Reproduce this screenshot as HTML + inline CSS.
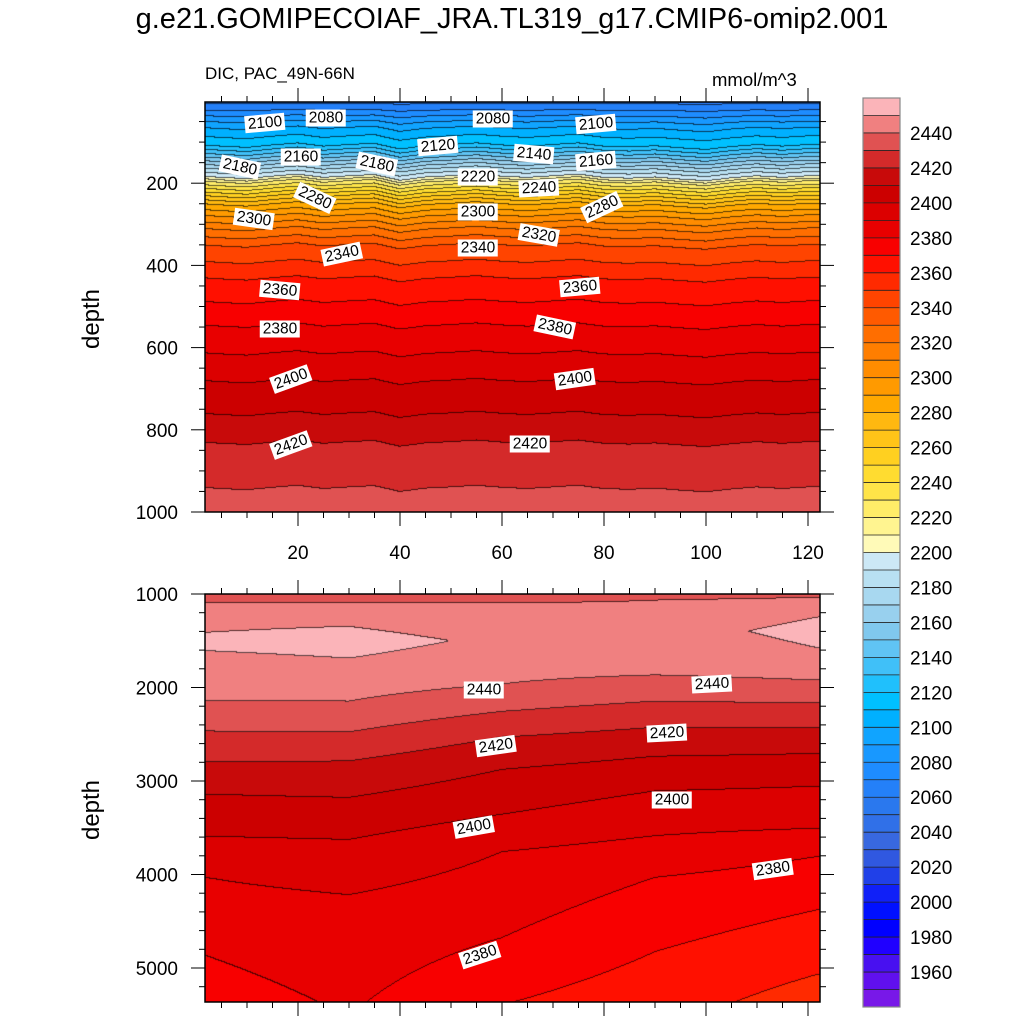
<!DOCTYPE html>
<html><head><meta charset="utf-8">
<style>
body{margin:0;background:#fff;width:1024px;height:1024px;position:relative;overflow:hidden;font-family:"Liberation Sans",sans-serif;color:#000}
.t{position:absolute;white-space:nowrap}
.cl{position:absolute;background:#fff;font-size:15.5px;line-height:17px;padding:0 3px;transform:translate(-50%,-50%) rotate(var(--r,0deg))}
canvas{position:absolute}
</style></head><body>
<div class="t" style="left:0;width:1024px;text-align:center;top:3px;font-size:29px">g.e21.GOMIPECOIAF_JRA.TL319_g17.CMIP6-omip2.001</div>
<div class="t" style="left:205px;top:64px;font-size:17px">DIC, PAC_49N-66N</div>
<div class="t" style="left:712px;top:69px;font-size:18.5px">mmol/m^3</div>
<div class="t" style="left:62px;top:305px;font-size:24px;transform:rotate(-90deg);transform-origin:center">depth</div>
<div class="t" style="left:62px;top:796px;font-size:24px;transform:rotate(-90deg);transform-origin:center">depth</div>
<canvas id="c1" width="615" height="410" style="left:205px;top:102px"></canvas>
<canvas id="c2" width="615" height="408" style="left:205px;top:594px"></canvas>
<svg id="ax" width="1024" height="1024" style="position:absolute;left:0;top:0"></svg>
<div id="labels"></div>
<script>
// ---- data ----
const levels=[];for(let v=1950;v<=2450;v+=10)levels.push(v);
const colors=["#7818e8","#6010ee","#4810f0","#2000ff","#0000ff","#0010ff","#1020f8","#2040e8","#3058e0","#3868e0","#3070e8","#2a78ee","#2480f8","#1e8cff","#1898ff","#10a4ff","#00b0ff","#00c0ff","#20c0fc","#40c0f8","#60c4f4","#80c8ee","#98d0ee","#a8d8f0","#b8e0f2","#cce8f6",
"#fffab8","#fff490","#ffec68","#ffe448","#ffdc30","#ffd020","#ffc418","#ffb810","#ffa800","#ff9a00","#ff8c00","#ff7e00","#ff6e00","#ff5a00","#ff4400","#ff2a00","#ff1000","#f80000","#e80000","#dc0000","#cc0000","#c80a0a","#d42a2a","#e05252","#f08080","#fbb4b9"];
const topDepths=[0,20,50,65,90,107,127,145,163,183,195,212,230,250,278,310,350,430,545,680,760,830,940,1000];
const topValues=[2055,2068,2090,2100,2112,2120,2140,2160,2180,2200,2220,2240,2260,2280,2300,2320,2340,2360,2380,2400,2410,2420,2430,2436];
const shiftX=[0,5,10,15,20,25,30,35,40,45,50,55,60,65,70,75,80,85,90,95,100,105,110,115,120,125];
const shiftM=[0,4,7,1,-4,4,0,-3,11,3,0,-4,1,4,0,-4,4,6,3,8,12,5,0,4,0,0];
const botX=[2,30,60,90,122];
const botDepths=[
[970,1100,1300,1530,1770,2140,2470,2800,3145,3595,4035,4870,5400],
[970,1100,1350,1510,1690,2150,2480,2790,3180,3630,4220,5400],
[970,1100,1500,1967,2260,2535,2880,3360,3760,4680,5400],
[970,1070,1400,1870,2150,2430,2740,3110,3590,4035,4830,5400],
[970,1040,1250,1400,1580,1925,2170,2430,2710,3060,3510,3810,4380,5070,5400]];
const botValues=[
[2434,2440,2448,2452,2446,2440,2430,2420,2410,2400,2390,2380,2375],
[2434,2440,2450,2454,2450,2440,2430,2420,2410,2400,2390,2381],
[2434,2440,2448,2440,2430,2420,2410,2400,2390,2380,2370],
[2435,2440,2446,2440,2430,2420,2410,2400,2390,2380,2370,2364],
[2436,2440,2450,2453,2450,2440,2430,2420,2410,2400,2390,2380,2370,2360,2355]];
const cbTicks=[1960,1980,2000,2020,2040,2060,2080,2100,2120,2140,2160,2180,2200,2220,2240,2260,2280,2300,2320,2340,2360,2380,2400,2420,2440];
const topYTicks=[200,400,600,800,1000];
const botYTicks=[1000,2000,3000,4000,5000];
const xTicks=[20,40,60,80,100,120];
const labelsTop=[["2100",265,123,-5],["2080",326,118,0],["2080",493,119,0],["2100",596,124,-5],["2120",438,146,-5],["2140",534,154,5],["2160",301,157,0],["2180",240,167,12],["2180",377,164,12],["2160",596,161,-5],["2220",478,177,0],["2240",539,188,-3],["2280",315,198,25],["2280",602,207,-25],["2300",254,219,8],["2300",478,212,0],["2320",539,235,10],["2340",342,254,-12],["2340",478,248,0],["2360",280,290,5],["2360",580,287,-5],["2380",280,329,0],["2380",555,327,12],["2400",291,379,-20],["2400",575,379,-8],["2420",291,445,-20],["2420",530,444,0]];
const labelsBot=[["2440",484,690,0],["2440",712,684,-3],["2420",496,746,-8],["2420",667,733,-3],["2400",474,827,-10],["2400",672,800,0],["2380",773,869,-8],["2380",480,955,-18]];
// ---- scales ----
const xS=v=>196+v*5.1, xInv=p=>(p-196)/5.1;
const yTop=d=>101+d*0.411, yTopInv=p=>(p-101)/0.411;
const yBot=d=>594+(d-1000)*0.0935, yBotInv=p=>1000+(p-594)/0.0935;
function interp(xs,ys,x){if(x<=xs[0])return ys[0];for(let i=1;i<xs.length;i++){if(x<=xs[i]){const t=(x-xs[i-1])/(xs[i]-xs[i-1]);return ys[i-1]+t*(ys[i]-ys[i-1]);}}return ys[ys.length-1];}
function band(v){let i=0;while(i<levels.length&&v>=levels[i])i++;return i;}
function hex(c){return [parseInt(c.substr(1,2),16),parseInt(c.substr(3,2),16),parseInt(c.substr(5,2),16)];}
const rgb=colors.map(hex);
function drawField(id,left,top,fn){
 const cv=document.getElementById(id),W=cv.width,H=cv.height,ctx=cv.getContext('2d');
 const img=ctx.createImageData(W,H),idx=new Int16Array(W*H);
 for(let j=0;j<H;j++)for(let i=0;i<W;i++)idx[j*W+i]=band(fn(xInv(left+i+0.5),top+j+0.5));
 for(let j=0;j<H;j++)for(let i=0;i<W;i++){const k=j*W+i;let c=rgb[idx[k]];let edge=(i<W-1&&idx[k]!=idx[k+1])||(j<H-1&&idx[k]!=idx[k+W]);const f=edge?0.35:1;img.data[k*4]=c[0]*f;img.data[k*4+1]=c[1]*f;img.data[k*4+2]=c[2]*f;img.data[k*4+3]=255;}
 ctx.putImageData(img,0,0);
}
drawField('c1',205,102,(x,py)=>{const d=yTopInv(py);const s=interp(shiftX,shiftM,x)*Math.min(1,d/80);return interp(topDepths,topValues,d-s);});
drawField('c2',205,594,(x,py)=>{const d=yBotInv(py);const vals=botX.map((_,k)=>interp(botDepths[k],botValues[k],d));return interp(botX,vals,x);});
// ---- axes ----
const ax=document.getElementById('ax');const NS='http://www.w3.org/2000/svg';
function el(tag,attrs,txt){const e=document.createElementNS(NS,tag);for(const k in attrs)e.setAttribute(k,attrs[k]);if(txt!==undefined)e.textContent=txt;ax.appendChild(e);return e;}
function panel(y0,y1,yf,yt,minorStep,dmin,dmax,name){
 const b=el('rect',{x:205,y:y0,width:615,height:y1-y0,fill:'none',stroke:'#000','stroke-width':1.5});
 
 for(let v=5;v<=122;v+=5){const X=xS(v);const maj=v%20==0;el('line',{x1:X,x2:X,y1:y1,y2:y1+(maj?14:6),stroke:'#000'});el('line',{x1:X,x2:X,y1:y0,y2:y0-(maj?14:6),stroke:'#000'});}
 for(let d=Math.ceil(dmin/minorStep)*minorStep;d<=dmax;d+=minorStep){const Y=yf(d);if(Y<y0-0.5||Y>y1+0.5)continue;const maj=yt.includes(d);el('line',{x1:205,x2:205-(maj?14:6),y1:Y,y2:Y,stroke:'#000'});el('line',{x1:820,x2:820+(maj?14:6),y1:Y,y2:Y,stroke:'#000'});}
 yt.forEach(d=>{const t=el('text',{x:178,y:yf(d)+7,'text-anchor':'end','font-size':19,'font-family':'Liberation Sans, sans-serif'},String(d));});
}
panel(102,512,yTop,topYTicks,50,0,1000,'top-panel');
panel(594,1002,yBot,botYTicks,200,1000,5400,'bottom-panel');
xTicks.forEach(v=>{const t=el('text',{x:xS(v),y:559,'text-anchor':'middle','font-size':19,'font-family':'Liberation Sans, sans-serif'},String(v));});
// colorbar
const cbTop=98,cbBot=1007,bh=(cbBot-cbTop)/colors.length;
colors.forEach((c,i)=>{const y=cbBot-(i+1)*bh;const r=el('rect',{x:863,y:y,width:37,height:bh+0.3,fill:c});if(i>0)el('line',{x1:863,x2:900,y1:cbBot-i*bh,y2:cbBot-i*bh,stroke:'#222','stroke-width':0.8});});
el('rect',{x:863,y:cbTop,width:37,height:cbBot-cbTop,fill:'none',stroke:'#888','stroke-width':1.2});
cbTicks.forEach(v=>{const i=levels.indexOf(v)+1;const y=cbBot-i*bh;const t=el('text',{x:910,y:y+7,'font-size':19,'font-family':'Liberation Sans, sans-serif'},String(v));});
// contour labels
const L=document.getElementById('labels');
labelsTop.concat(labelsBot).forEach(a=>{const d=document.createElement('div');d.className='cl';d.textContent=a[0];d.style.left=a[1]+'px';d.style.top=a[2]+'px';d.style.setProperty('--r',a[3]+'deg');


L.appendChild(d);});
</script>
</body></html>
